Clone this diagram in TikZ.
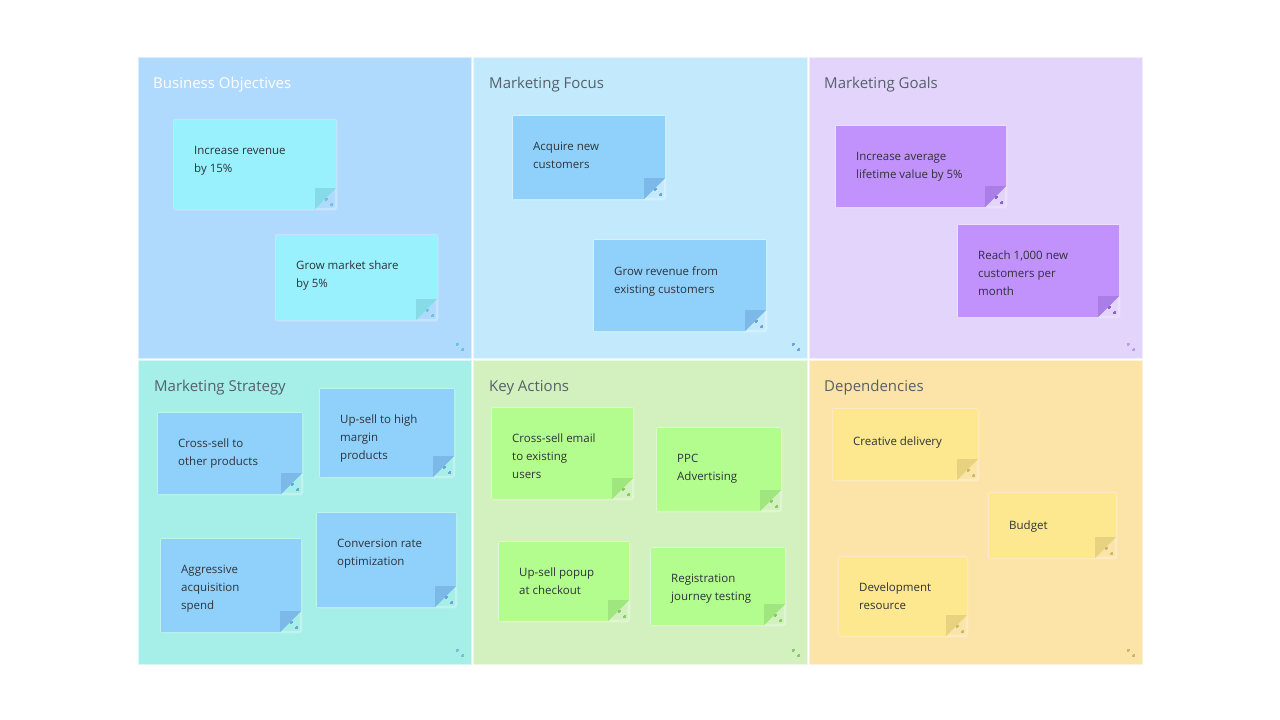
\documentclass[tikz,border=0pt]{standalone}
\usepackage{fontspec}
\setmainfont{Open Sans}

% --- Colours ---
\definecolor{panelA}{HTML}{B0D9FE}
\definecolor{panelB}{HTML}{C2EAFC}
\definecolor{panelC}{HTML}{E3D4FC}
\definecolor{panelD}{HTML}{A6EEE8}
\definecolor{panelE}{HTML}{D3F1BE}
\definecolor{panelF}{HTML}{FCE3A8}
\definecolor{titlegray}{HTML}{56606B}
\definecolor{textdark}{HTML}{2E3338}

\definecolor{noteCyan}{HTML}{98F1FD}
\definecolor{foldCyan}{HTML}{86DBE6}
\definecolor{iconCyan}{HTML}{6FC3D3}
\definecolor{noteBlue}{HTML}{90D1FC}
\definecolor{foldBlue}{HTML}{7DB9E8}
\definecolor{iconBlue}{HTML}{6AA8D8}
\definecolor{notePurple}{HTML}{C191FC}
\definecolor{foldPurple}{HTML}{A97EE6}
\definecolor{iconPurple}{HTML}{8D62CF}
\definecolor{noteGreen}{HTML}{B3FD8E}
\definecolor{foldGreen}{HTML}{9FE67E}
\definecolor{iconGreen}{HTML}{86CC66}
\definecolor{noteYellow}{HTML}{FDE78F}
\definecolor{foldYellow}{HTML}{E6D27F}
\definecolor{iconYellow}{HTML}{CDB866}

% --- Folded corner size ---
\def\fold{21}

% resize handle: #1 centre, #2 colour
\newcommand{\resizeicon}[2]{%
  \draw[#2, line width=1.1] (#1) ++(-3,-1) -- ++(0,-2) -- ++(2,0)
                            (#1) ++(1,3) -- ++(2,0) -- ++(0,-2);}

% sticky note: #1 name, #2 x, #3 y, #4 width, #5 height, #6 colour family, #7 text
\newcommand{\stickynote}[7]{%
  \draw[noteedge] (#2,#3) rectangle ({#2+#4},{#3+#5});
  \fill[note#6] (#2,#3) -- ({#2+#4},#3) -- ({#2+#4},{#3+#5-\fold})
        -- ({#2+#4-\fold},{#3+#5}) -- (#2,{#3+#5}) -- cycle;
  \fill[fold#6] ({#2+#4},{#3+#5-\fold}) -- ({#2+#4-\fold},{#3+#5-\fold})
        -- ({#2+#4-\fold},{#3+#5}) -- cycle;
  \node[notetext] (#1) at ({#2+20},{#3+26}) {#7};
  \resizeicon{{#2+#4-7},{#3+#5-7}}{icon#6}}

\tikzset{
  panel/.style={draw=white!55!#1, line width=1, fill=#1},
  paneltitle/.style={anchor=base west, inner sep=0, text=titlegray,
    font=\fontsize{15}{18}\selectfont},
  notetext/.style={anchor=north west, inner sep=0, align=left, text=textdark,
    font=\fontsize{11.5}{18}\selectfont,
    execute at begin node={\rule{0pt}{10pt}}},
  noteedge/.style={draw=white, draw opacity=0.3, line width=2.5, rounded corners=2}
}

\begin{document}
\begin{tikzpicture}[x=1pt, y=-1pt]

    % --- Canvas ---
    \useasboundingbox[fill=white] (0,0) rectangle (1280,720);

    % --- Panels ---
    \draw[panel=panelA] (138.5,57.5) rectangle (471,358);
    \draw[panel=panelB] (473.5,57.5) rectangle (807,358);
    \draw[panel=panelC] (809.5,57.5) rectangle (1142,358);
    \draw[panel=panelD] (138.5,360.5) rectangle (471,664);
    \draw[panel=panelE] (473.5,360.5) rectangle (807,664);
    \draw[panel=panelF] (809.5,360.5) rectangle (1142,664);

    % --- Panel titles ---
    \node[paneltitle, text=white] (objectives) at (153,88) {Business Objectives};
    \node[paneltitle] (focus) at (489,88) {Marketing Focus};
    \node[paneltitle] (goals) at (824,88) {Marketing Goals};
    \node[paneltitle] (strategy) at (154,391) {Marketing Strategy};
    \node[paneltitle] (actions) at (489,391) {Key Actions};
    \node[paneltitle] (depends) at (824,391) {Dependencies};

    % --- Panel resize handles ---
    \resizeicon{460,347}{iconCyan}
    \resizeicon{796,347}{iconBlue}
    \resizeicon{1131,347}{iconPurple!60}
    \resizeicon{460,653}{iconCyan}
    \resizeicon{796,653}{iconGreen}
    \resizeicon{1131,653}{iconYellow}

    % --- Business Objectives ---
    \stickynote{revenue}{174}{120}{162}{89}{Cyan}{Increase revenue\\by 15\%}
    \stickynote{share}{276}{235}{161}{85}{Cyan}{Grow market share\\by 5\%}

    % --- Marketing Focus ---
    \stickynote{acquire}{513}{116}{152}{83}{Blue}{Acquire new\\customers}
    \stickynote{existing}{594}{240}{172}{91}{Blue}{Grow revenue from\\existing customers}

    % --- Marketing Goals ---
    \stickynote{lifetime}{836}{126}{170}{81}{Purple}{Increase average\\lifetime value by 5\%}
    \stickynote{reach}{958}{225}{161}{92}{Purple}{Reach 1,000 new\\customers per\\month}

    % --- Marketing Strategy ---
    \stickynote{crosssell}{158}{413}{144}{81}{Blue}{Cross-sell to\\other products}
    \stickynote{upsell}{320}{389}{134}{88}{Blue}{Up-sell to high\\margin\\products}
    \stickynote{aggressive}{161}{539}{140}{93}{Blue}{Aggressive\\acquisition\\spend}
    \stickynote{conversion}{317}{513}{139}{94}{Blue}{Conversion rate\\optimization}

    % --- Key Actions ---
    \stickynote{email}{492}{408}{141}{91}{Green}{Cross-sell email\\to existing\\users}
    \stickynote{ppc}{657}{428}{124}{83}{Green}{PPC\\Advertising}
    \stickynote{popup}{499}{542}{130}{79}{Green}{Up-sell popup\\at checkout}
    \stickynote{journey}{651}{548}{134}{77}{Green}{Registration\\journey testing}

    % --- Dependencies ---
    \stickynote{creative}{833}{409}{145}{71}{Yellow}{Creative delivery}
    \stickynote{budget}{989}{493}{127}{65}{Yellow}{Budget}
    \stickynote{devres}{839}{557}{128}{79}{Yellow}{Development\\resource}

\end{tikzpicture}
\end{document}
